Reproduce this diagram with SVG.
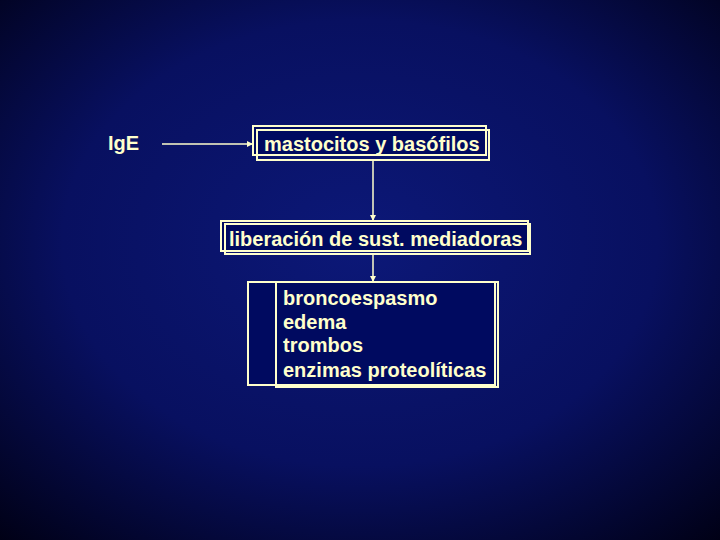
<svg xmlns="http://www.w3.org/2000/svg" width="720" height="540" viewBox="0 0 720 540">
<defs>
<radialGradient id="bg" cx="50%" cy="45%" r="75%">
<stop offset="0" stop-color="#0c1878"/>
<stop offset="0.55" stop-color="#081060"/>
<stop offset="1" stop-color="#000014"/>
</radialGradient>
<marker id="ah" markerWidth="6" markerHeight="6" refX="5" refY="3" orient="auto" markerUnits="userSpaceOnUse">
<path d="M0,0 L6,3 L0,6 Z" fill="#ffffcc"/>
</marker>
<style>
.b{fill:none;stroke:#ffffcc;stroke-width:2}
.f{fill:#000a60;stroke:#ffffcc;stroke-width:2}
.t{font-family:"Liberation Sans",Arial,sans-serif;font-weight:bold;font-size:20px;fill:#ffffcc}
.c{fill:none;stroke:#ffffcc;stroke-width:1.5}
</style>
</defs>
<rect width="720" height="540" fill="url(#bg)"/>
<g id="n-ige"><text class="t" x="108" y="150">IgE</text></g>
<g id="n-mast">
<rect class="f" x="253" y="126" width="233" height="29"/>
<rect class="b" x="257" y="130" width="232" height="30"/>
<text class="t" x="264" y="151">mastocitos y basófilos</text>
</g>
<g id="n-lib">
<rect class="f" x="221" y="221" width="307" height="30"/>
<rect class="b" x="225" y="224" width="305" height="30"/>
<text class="t" x="229" y="246">liberación de sust. mediadoras</text>
</g>
<g id="n-efx">
<rect class="f" x="248" y="282" width="247" height="103"/>
<rect class="b" x="276" y="282" width="222" height="105"/>
<text class="t" x="283" y="305">broncoespasmo</text>
<text class="t" x="283" y="329">edema</text>
<text class="t" x="283" y="352">trombos</text>
<text class="t" x="283" y="377">enzimas proteolíticas</text>
</g>
<g id="connectors">
<line class="c" x1="162" y1="144" x2="252" y2="144" marker-end="url(#ah)"/>
<line class="c" x1="373" y1="160" x2="373" y2="220" marker-end="url(#ah)"/>
<line class="c" x1="373" y1="254" x2="373" y2="281" marker-end="url(#ah)"/>
</g>
</svg>
